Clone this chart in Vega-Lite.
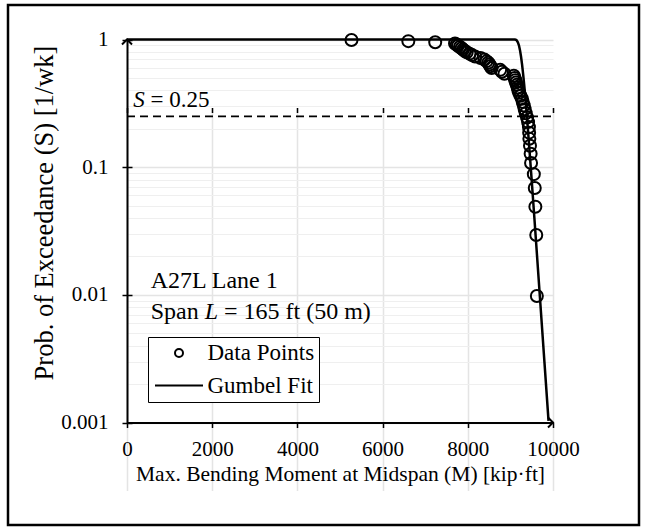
{
  "$schema": "https://vega.github.io/schema/vega-lite/v6.json",
  "width": 631,
  "height": 520,
  "autosize": {"type": "none"},
  "padding": {"left": 8, "top": 5, "right": 8, "bottom": 5},
  "background": "white",
  "config": {
    "view": {"stroke": "black", "strokeWidth": 2.5},
    "font": "Liberation Serif",
    "axis": {
      "labelFont": "Liberation Serif",
      "titleFont": "Liberation Serif",
      "labelColor": "black",
      "titleColor": "black",
      "labelFontSize": 21,
      "titleFontSize": 21.5,
      "titleFontWeight": "normal",
      "tickColor": "black",
      "domainColor": "black"
    }
  },
  "datasets": {
    "points": [
      {"M": 5270, "S": 0.9902, "series": "Data Points"},
      {"M": 6604, "S": 0.9706, "series": "Data Points"},
      {"M": 7235, "S": 0.9510, "series": "Data Points"},
      {"M": 7700, "S": 0.9314, "series": "Data Points"},
      {"M": 7740, "S": 0.9118, "series": "Data Points"},
      {"M": 7770, "S": 0.8922, "series": "Data Points"},
      {"M": 7815, "S": 0.8725, "series": "Data Points"},
      {"M": 7855, "S": 0.8529, "series": "Data Points"},
      {"M": 7890, "S": 0.8333, "series": "Data Points"},
      {"M": 7930, "S": 0.8137, "series": "Data Points"},
      {"M": 7975, "S": 0.7941, "series": "Data Points"},
      {"M": 8040, "S": 0.7745, "series": "Data Points"},
      {"M": 8100, "S": 0.7549, "series": "Data Points"},
      {"M": 8170, "S": 0.7353, "series": "Data Points"},
      {"M": 8300, "S": 0.7157, "series": "Data Points"},
      {"M": 8390, "S": 0.6961, "series": "Data Points"},
      {"M": 8440, "S": 0.6765, "series": "Data Points"},
      {"M": 8480, "S": 0.6569, "series": "Data Points"},
      {"M": 8510, "S": 0.6373, "series": "Data Points"},
      {"M": 8530, "S": 0.6176, "series": "Data Points"},
      {"M": 8560, "S": 0.5980, "series": "Data Points"},
      {"M": 8760, "S": 0.5784, "series": "Data Points"},
      {"M": 8800, "S": 0.5588, "series": "Data Points"},
      {"M": 8860, "S": 0.5392, "series": "Data Points"},
      {"M": 9080, "S": 0.5196, "series": "Data Points"},
      {"M": 9100, "S": 0.5000, "series": "Data Points"},
      {"M": 9115, "S": 0.4804, "series": "Data Points"},
      {"M": 9130, "S": 0.4608, "series": "Data Points"},
      {"M": 9150, "S": 0.4412, "series": "Data Points"},
      {"M": 9170, "S": 0.4216, "series": "Data Points"},
      {"M": 9185, "S": 0.4020, "series": "Data Points"},
      {"M": 9205, "S": 0.3824, "series": "Data Points"},
      {"M": 9235, "S": 0.3627, "series": "Data Points"},
      {"M": 9270, "S": 0.3431, "series": "Data Points"},
      {"M": 9290, "S": 0.3235, "series": "Data Points"},
      {"M": 9315, "S": 0.3039, "series": "Data Points"},
      {"M": 9335, "S": 0.2843, "series": "Data Points"},
      {"M": 9360, "S": 0.2647, "series": "Data Points"},
      {"M": 9390, "S": 0.2451, "series": "Data Points"},
      {"M": 9415, "S": 0.2255, "series": "Data Points"},
      {"M": 9435, "S": 0.2059, "series": "Data Points"},
      {"M": 9440, "S": 0.1863, "series": "Data Points"},
      {"M": 9445, "S": 0.1667, "series": "Data Points"},
      {"M": 9460, "S": 0.1471, "series": "Data Points"},
      {"M": 9475, "S": 0.1275, "series": "Data Points"},
      {"M": 9485, "S": 0.1078, "series": "Data Points"},
      {"M": 9550, "S": 0.0882, "series": "Data Points"},
      {"M": 9572, "S": 0.0686, "series": "Data Points"},
      {"M": 9586, "S": 0.0490, "series": "Data Points"},
      {"M": 9607, "S": 0.0294, "series": "Data Points"},
      {"M": 9621, "S": 0.0098, "series": "Data Points"}
    ],
    "fit": [
      {"M": 0, "S": 1.0},
      {"M": 9000, "S": 1.0},
      {"M": 9100, "S": 0.999},
      {"M": 9125, "S": 0.995},
      {"M": 9150, "S": 0.982},
      {"M": 9175, "S": 0.952},
      {"M": 9200, "S": 0.900},
      {"M": 9225, "S": 0.825},
      {"M": 9250, "S": 0.733},
      {"M": 9275, "S": 0.632},
      {"M": 9300, "S": 0.531},
      {"M": 9325, "S": 0.437},
      {"M": 9350, "S": 0.353},
      {"M": 9375, "S": 0.280},
      {"M": 9400, "S": 0.221},
      {"M": 9425, "S": 0.172},
      {"M": 9450, "S": 0.133},
      {"M": 9500, "S": 0.0788},
      {"M": 9550, "S": 0.046},
      {"M": 9600, "S": 0.0267},
      {"M": 9700, "S": 0.00887},
      {"M": 9800, "S": 0.00294},
      {"M": 9895, "S": 0.00103}
    ],
    "ref": [{"S": 0.25, "M0": 0, "M1": 10000}]
  },
  "layer": [
    {
      "data": {"name": "points"},
      "mark": {"type": "point", "filled": false, "stroke": "black", "strokeWidth": 2, "size": 144, "opacity": 1},
      "encoding": {
        "x": {
          "field": "M", "type": "quantitative",
          "scale": {"domain": [0, 10000], "range": [119, 545], "nice": false, "zero": false},
          "axis": {
            "values": [0, 2000, 4000, 6000, 8000, 10000],
            "format": "d",
            "labelFlush": false,
            "grid": true, "gridColor": "#e4e4e4", "gridWidth": 1.5,
            "tickSize": 5, "tickWidth": 1.5,
            "domainWidth": 2,
            "labelPadding": 10.5,
            "title": "Max. Bending Moment at Midspan (M) [kip·ft]",
            "titlePadding": 4,
            "offset": -102.5
          }
        },
        "y": {
          "field": "S", "type": "quantitative",
          "scale": {"type": "log", "domain": [0.001, 1], "range": [417.5, 34.5], "nice": false},
          "axis": {
            "orient": "left",
            "values": [0.002, 0.003, 0.004, 0.005, 0.006, 0.007, 0.008, 0.009, 0.02, 0.03, 0.04, 0.05, 0.06, 0.07, 0.08, 0.09, 0.2, 0.3, 0.4, 0.5, 0.6, 0.7, 0.8, 0.9],
            "grid": true, "gridColor": "#efefef", "gridWidth": 1.2,
            "ticks": false, "labels": false, "domain": false, "title": null,
            "offset": -119
          }
        },
        "shape": {
          "field": "series", "type": "nominal",
          "scale": {"domain": ["Data Points", "Gumbel Fit"], "range": ["circle", "M -6 0 L 6 0"]},
          "legend": {
            "title": null,
            "orient": "none",
            "legendX": 140,
            "legendY": 332,
            "padding": 4.5,
            "strokeColor": "black",
            "fillColor": "white",
            "labelFont": "Liberation Serif",
            "labelFontSize": 23,
            "labelColor": "black",
            "symbolSize": 64,
            "symbolStrokeColor": "black",
            "symbolStrokeWidth": 2,
            "symbolFillColor": "transparent",
            "rowPadding": 8.5,
            "symbolOffset": 15,
            "labelOffset": 17
          }
        }
      }
    },
    {
      "data": {"name": "fit"},
      "mark": {"type": "line", "color": "black", "strokeWidth": 2.5},
      "encoding": {
        "x": {
          "field": "M", "type": "quantitative",
          "scale": {"domain": [0, 10000], "range": [119, 545], "nice": false, "zero": false},
          "axis": {
            "values": [0, 2000, 4000, 6000, 8000, 10000],
            "grid": false, "labels": false, "domain": false, "title": null,
            "tickSize": -5, "tickWidth": 1.5,
            "offset": -102.5
          }
        },
        "y": {
          "field": "S", "type": "quantitative",
          "scale": {"type": "log", "domain": [0.001, 1], "range": [417.5, 34.5], "nice": false},
          "axis": {
            "orient": "left",
            "values": [0.001, 0.01, 0.1, 1],
            "format": "~g",
            "grid": true, "gridColor": "#e4e4e4", "gridWidth": 1.5,
            "tickSize": 5, "tickWidth": 1.5,
            "domainWidth": 2,
            "labelPadding": 14,
            "title": "Prob. of Exceedance (S) [1/wk]",
            "titleFontSize": 26.5,
            "titlePadding": 2,
            "titleY": 207.5,
            "offset": -119
          }
        }
      }
    },
    {
      "data": {"name": "ref"},
      "mark": {"type": "rule", "color": "black", "strokeWidth": 1.8, "strokeDash": [8, 5]},
      "encoding": {
        "x": {"field": "M0", "type": "quantitative", "scale": {"domain": [0, 10000], "range": [119, 545], "nice": false, "zero": false}, "axis": null},
        "x2": {"field": "M1"},
        "y": {
          "field": "S", "type": "quantitative",
          "scale": {"type": "log", "domain": [0.001, 1], "range": [417.5, 34.5], "nice": false},
          "axis": {
            "orient": "left",
            "values": [0.001, 0.01, 0.1, 1],
            "grid": false, "labels": false, "domain": false, "title": null,
            "tickSize": -5, "tickWidth": 1.5,
            "offset": -119
          }
        }
      }
    },
    {
      "data": {"values": [{"M": 0, "S": 1}]},
      "mark": {"type": "point", "shape": "M -1 1 L 0 0 L 1 1", "filled": false, "stroke": "black", "strokeWidth": 2, "size": 100, "opacity": 1},
      "encoding": {
        "x": {"field": "M", "type": "quantitative", "axis": null},
        "y": {"field": "S", "type": "quantitative", "scale": {"type": "log"}, "axis": null}
      }
    },
    {
      "data": {"values": [{"M": 10000, "S": 0.001}]},
      "mark": {"type": "point", "shape": "M -1 -1 L 0 0 L -1 1", "filled": false, "stroke": "black", "strokeWidth": 2, "size": 100, "opacity": 1},
      "encoding": {
        "x": {"field": "M", "type": "quantitative", "axis": null},
        "y": {"field": "S", "type": "quantitative", "scale": {"type": "log"}, "axis": null}
      }
    },
    {
      "data": {"values": [{"M": 145, "S": 0.2985, "t": "S"}]},
      "mark": {"type": "text", "align": "left", "baseline": "alphabetic", "font": "Liberation Serif", "fontSize": 23, "fontStyle": "italic", "color": "black"},
      "encoding": {
        "x": {"field": "M", "type": "quantitative", "axis": null},
        "y": {"field": "S", "type": "quantitative", "scale": {"type": "log"}, "axis": null},
        "text": {"field": "t"}
      }
    },
    {
      "data": {"values": [{"M": 145, "S": 0.2985, "t": "= 0.25"}]},
      "mark": {"type": "text", "align": "left", "baseline": "alphabetic", "font": "Liberation Serif", "fontSize": 23, "dx": 17.3, "color": "black"},
      "encoding": {
        "x": {"field": "M", "type": "quantitative", "axis": null},
        "y": {"field": "S", "type": "quantitative", "scale": {"type": "log"}, "axis": null},
        "text": {"field": "t"}
      }
    },
    {
      "data": {"values": [{"M": 555, "S": 0.0114, "t": "A27L Lane 1"}, {"M": 555, "S": 0.00641, "t": "Span"}]},
      "mark": {"type": "text", "align": "left", "baseline": "alphabetic", "font": "Liberation Serif", "fontSize": 24, "color": "black"},
      "encoding": {
        "x": {"field": "M", "type": "quantitative", "axis": null},
        "y": {"field": "S", "type": "quantitative", "scale": {"type": "log"}, "axis": null},
        "text": {"field": "t"}
      }
    },
    {
      "data": {"values": [{"M": 555, "S": 0.00641, "t": "L"}]},
      "mark": {"type": "text", "align": "left", "baseline": "alphabetic", "font": "Liberation Serif", "fontSize": 24, "fontStyle": "italic", "dx": 54, "color": "black"},
      "encoding": {
        "x": {"field": "M", "type": "quantitative", "axis": null},
        "y": {"field": "S", "type": "quantitative", "scale": {"type": "log"}, "axis": null},
        "text": {"field": "t"}
      }
    },
    {
      "data": {"values": [{"M": 555, "S": 0.00641, "t": "= 165 ft (50 m)"}]},
      "mark": {"type": "text", "align": "left", "baseline": "alphabetic", "font": "Liberation Serif", "fontSize": 24, "dx": 73.3, "color": "black"},
      "encoding": {
        "x": {"field": "M", "type": "quantitative", "axis": null},
        "y": {"field": "S", "type": "quantitative", "scale": {"type": "log"}, "axis": null},
        "text": {"field": "t"}
      }
    }
  ],
  "resolve": {"axis": {"x": "independent", "y": "independent"}}
}
